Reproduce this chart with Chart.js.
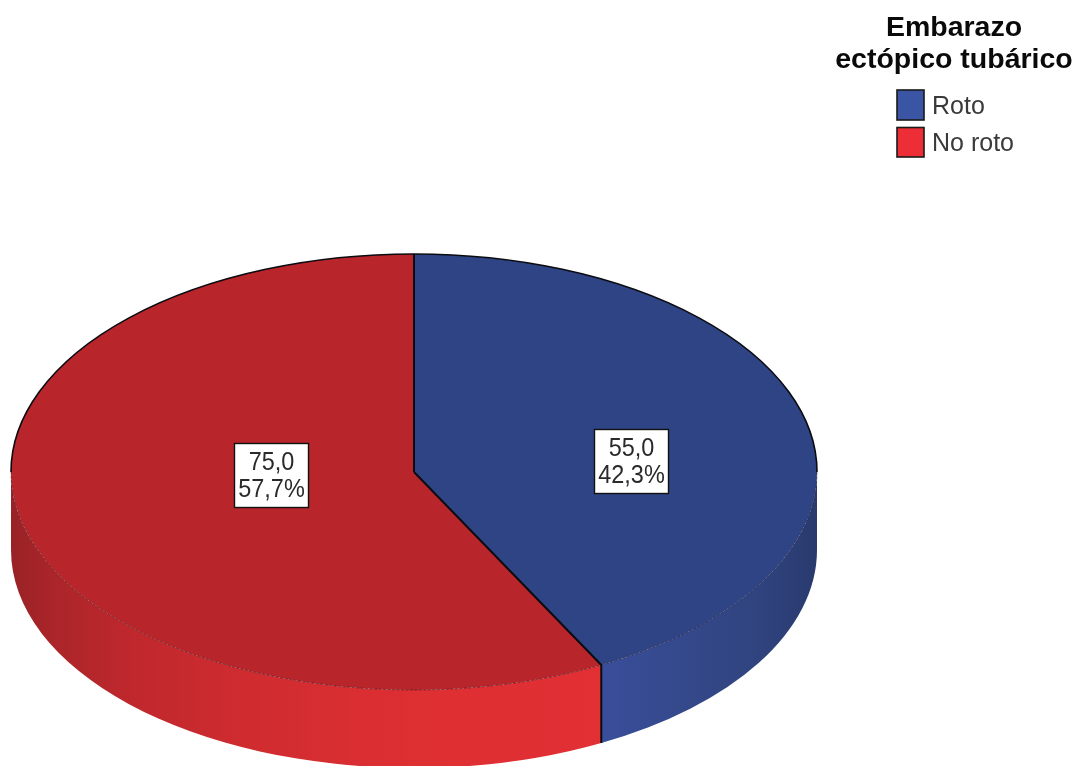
<!DOCTYPE html>
<html><head><meta charset="utf-8">
<style>html,body{margin:0;padding:0;background:#fff;overflow:hidden}canvas{display:block;filter:blur(.6px)}</style>
<script src="https://cdn.jsdelivr.net/npm/chart.js@4/dist/chart.umd.min.js"></script>
</head><body><canvas id="c" width="1081" height="766"></canvas>
<script>
const categories = ['Roto', 'No roto'];
const counts = [55.0, 75.0];
const percents = ['42,3%', '57,7%'];
const countLabels = ['55,0', '75,0'];
const legendTitle = ['Embarazo', 'ectópico tubárico'];
const topColors = ['#2E4485', '#B8262B'];
const legendColors = ['#3B55A5', '#EE2E36'];

const GEOM = {cx: 414, cy: 472, rx: 403, ry: 218, depth: 78};
const LABEL_BOXES = [{x: 594.5, y: 429.5, w: 74, h: 64}, {x: 234.5, y: 443.5, w: 74, h: 64}];
const FONT = '"Liberation Sans", Arial, sans-serif';

function sideGradient(ctx, i) {
  const g = ctx.createLinearGradient(GEOM.cx - GEOM.rx, 0, GEOM.cx + GEOM.rx, 0);
  if (i === 0) {
    g.addColorStop(0.7, '#3B50A0'); g.addColorStop(0.8, '#364A90');
    g.addColorStop(0.92, '#304480'); g.addColorStop(1, '#293A6E');
  } else {
    g.addColorStop(0, '#982226'); g.addColorStop(0.05, '#AA2529');
    g.addColorStop(0.15, '#BF282D'); g.addColorStop(0.3, '#D02C30');
    g.addColorStop(0.5, '#DE2F33'); g.addColorStop(0.75, '#E23035');
  }
  return g;
}

function stretchedText(ctx, text, x, y, sx) {
  ctx.save();
  ctx.translate(x, y);
  ctx.scale(sx, 1);
  ctx.fillText(text, 0, 0);
  ctx.restore();
}

const pie3d = {
  id: 'pie3d',
  beforeDatasetsDraw(chart) {
    const ctx = chart.ctx, {cx, cy, rx, ry, depth} = GEOM;
    const arcs = chart.getDatasetMeta(0).data;
    arcs.forEach((a, i) => {
      const s = Math.max(a.startAngle, 0), e = Math.min(a.endAngle, Math.PI);
      if (e <= s) return;
      ctx.beginPath();
      ctx.ellipse(cx, cy, rx, ry, 0, s, e);
      ctx.ellipse(cx, cy + depth, rx, ry, 0, e, s, true);
      ctx.closePath();
      ctx.fillStyle = sideGradient(ctx, i);
      ctx.fill();
    });
    // Flatten the library's pie onto the tilted top face
    const a0 = arcs[0];
    ctx.save();
    ctx.translate(cx, cy);
    ctx.scale(rx / a0.outerRadius, ry / a0.outerRadius);
    ctx.translate(-a0.x, -a0.y);
  },
  afterDatasetsDraw(chart) {
    const ctx = chart.ctx, {cx, cy, rx, ry, depth} = GEOM;
    ctx.restore();
    const arcs = chart.getDatasetMeta(0).data;
    // rim, front half: faint dashed
    ctx.save();
    ctx.strokeStyle = 'rgba(30,10,20,.45)'; ctx.lineWidth = 1; ctx.setLineDash([3, 1.5]);
    ctx.beginPath(); ctx.ellipse(cx, cy, rx, ry, 0, 0, Math.PI); ctx.stroke();
    ctx.restore();
    // rim, back half
    ctx.strokeStyle = '#0b0b12'; ctx.lineWidth = 1.6;
    ctx.beginPath(); ctx.ellipse(cx, cy, rx, ry, 0, Math.PI, 2 * Math.PI); ctx.stroke();
    // spokes and the front seam
    arcs.forEach(a => {
      const px = cx + rx * Math.cos(a.startAngle), py = cy + ry * Math.sin(a.startAngle);
      ctx.lineWidth = 2; ctx.strokeStyle = '#0b0b12';
      ctx.beginPath(); ctx.moveTo(cx, cy); ctx.lineTo(px, py);
      if (Math.sin(a.startAngle) > 0) ctx.lineTo(px, py + depth);
      ctx.stroke();
    });
    // value labels
    LABEL_BOXES.forEach((b, i) => {
      ctx.fillStyle = '#fff'; ctx.fillRect(b.x, b.y, b.w, b.h);
      ctx.strokeStyle = '#111'; ctx.lineWidth = 1.4; ctx.strokeRect(b.x, b.y, b.w, b.h);
      ctx.fillStyle = '#2a2a2a'; ctx.font = '25.5px ' + FONT;
      ctx.textAlign = 'center'; ctx.textBaseline = 'middle';
      stretchedText(ctx, countLabels[i], b.x + b.w / 2, b.y + 19.5, 0.92);
      stretchedText(ctx, percents[i], b.x + b.w / 2, b.y + 46, 0.92);
    });
    // legend
    ctx.fillStyle = '#0a0a0a'; ctx.font = 'bold 28.5px ' + FONT;
    ctx.textAlign = 'center'; ctx.textBaseline = 'middle';
    ctx.fillText(legendTitle[0], 954, 28);
    ctx.fillText(legendTitle[1], 954, 60);
    const swatches = [{y: 90, h: 30}, {y: 127.5, h: 29.5}];
    categories.forEach((name, i) => {
      const s = swatches[i];
      ctx.fillStyle = legendColors[i]; ctx.fillRect(897, s.y, 27, s.h);
      ctx.strokeStyle = '#1a1a1a'; ctx.lineWidth = 1.6; ctx.strokeRect(897, s.y, 27, s.h);
      ctx.fillStyle = '#3a3a3a'; ctx.font = '25px ' + FONT;
      ctx.textAlign = 'left';
      ctx.fillText(name, 932, s.y + s.h / 2 + 2);
    });
  }
};

new Chart(document.getElementById('c'), {
  type: 'pie',
  data: {labels: categories, datasets: [{data: counts, backgroundColor: topColors, borderWidth: 0}]},
  options: {
    responsive: false, animation: false,
    layout: {padding: 0},
    plugins: {legend: {display: false}, tooltip: {enabled: false}}
  },
  plugins: [pie3d]
});
</script></body></html>
